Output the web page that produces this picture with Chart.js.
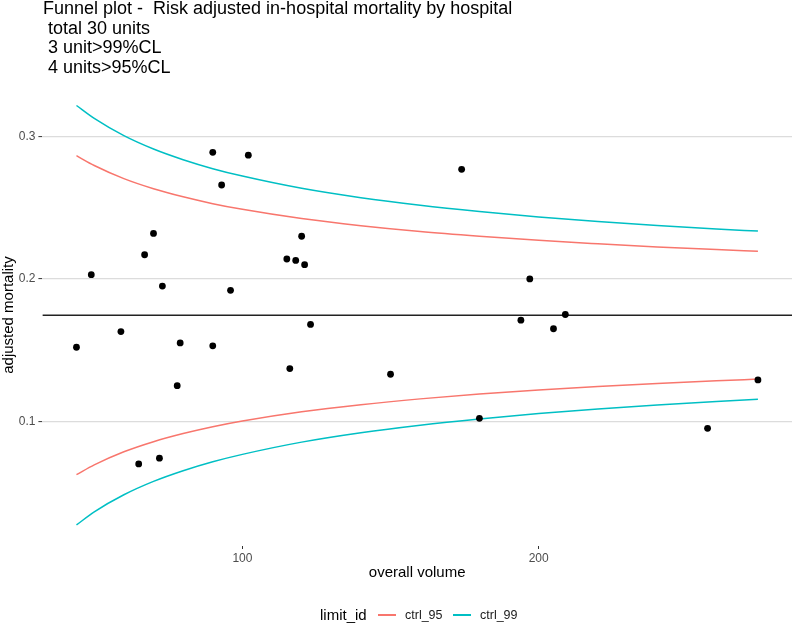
<!DOCTYPE html>
<html>
<head>
<meta charset="utf-8">
<script src="https://cdn.jsdelivr.net/npm/chart.js@4/dist/chart.umd.min.js"></script>
<style>
  html, body { margin: 0; padding: 0; background: #fff; }
  #wrap { position: relative; width: 796px; height: 623px; overflow: hidden; font-family: "Liberation Sans", Arial, sans-serif; }
  #title { position: absolute; left: 43px; top: -1px; font-size: 18px; line-height: 19.7px; white-space: pre; color: #000; }
  .lg { position: absolute; white-space: nowrap; }
  .lg-title { font-size: 15px; top: 606px; color: #000; }
  .lg-text { font-size: 12.5px; top: 608px; color: #1a1a1a; }
  .lg-key { height: 2px; width: 18px; top: 614px; }
</style>
</head>
<body>
<div id="wrap">
  <canvas id="funnel" width="796" height="623"></canvas>
  <div id="title"></div>
  <div class="lg lg-title" style="left:320px">limit_id</div>
  <div class="lg lg-key" style="left:378px;background:#F8766D"></div>
  <div class="lg lg-text" style="left:405px">ctrl_95</div>
  <div class="lg lg-key" style="left:453px;background:#00BFC4"></div>
  <div class="lg lg-text" style="left:480px">ctrl_99</div>
</div>
<script>
// Funnel plot: hospital volume vs risk adjusted mortality

const titleLines = [
    'Funnel plot -  Risk adjusted in-hospital mortality by hospital',
    ' total 30 units',
    ' 3 unit>99%CL',
    ' 4 units>95%CL'
];

// Hospitals
const hospitalVolume = [44, 49, 59, 67, 70, 73, 79, 78, 90, 90, 93, 96, 102, 115, 118, 121, 120, 123, 116, 150,
    65, 72, 174, 197, 194, 205, 209, 274, 180, 257];
const hospitalMortality = [0.152, 0.203, 0.163, 0.217, 0.232, 0.195, 0.155, 0.125, 0.289, 0.153, 0.266, 0.192, 0.287, 0.214, 0.213, 0.210, 0.230, 0.168, 0.137, 0.133,
    0.070, 0.074, 0.277, 0.200, 0.171, 0.165, 0.175, 0.129, 0.102, 0.095];

// Control limits
const limitVolume = [44, 50, 60, 70, 80, 90, 100, 120, 140, 160, 180, 200, 220, 240, 260, 274];
const upper95 = [0.2866, 0.2797, 0.2705, 0.2634, 0.2577, 0.2529, 0.2489, 0.2424, 0.2374, 0.2333, 0.2300, 0.2271, 0.2247, 0.2225, 0.2206, 0.2194];
const lower95 = [0.0624, 0.0693, 0.0785, 0.0856, 0.0913, 0.0961, 0.1001, 0.1066, 0.1116, 0.1157, 0.1191, 0.1219, 0.1244, 0.1265, 0.1284, 0.1296];
const upper99 = [0.3219, 0.3128, 0.3007, 0.2913, 0.2838, 0.2775, 0.2723, 0.2637, 0.2571, 0.2518, 0.2474, 0.2436, 0.2404, 0.2376, 0.2351, 0.2336];
const lower99 = [0.0271, 0.0363, 0.0483, 0.0577, 0.0652, 0.0715, 0.0767, 0.0853, 0.0919, 0.0972, 0.1016, 0.1054, 0.1086, 0.1114, 0.1139, 0.1154];
const meanMortality = 0.1745;

// Axes
const xMin = 32.5, xMax = 285.5;
const yMin = 0.0123, yMax = 0.337;
const xTicks = [100, 200];
const yTicks = [0.1, 0.2, 0.3];

const red = '#F8766D';
const cyan = '#00BFC4';

document.getElementById('title').textContent = titleLines.join('\n');

Chart.defaults.font.family = '"Liberation Sans", Arial, sans-serif';

function toPoints(xs, ys) {
    return xs.map((x, i) => ({ x: x, y: ys[i] }));
}

function limitLine(values, color) {
    return {
        data: toPoints(limitVolume, values),
        showLine: true,
        borderColor: color,
        borderWidth: 1.5,
        pointRadius: 0,
        cubicInterpolationMode: 'monotone'
    };
}

const ctx = document.getElementById('funnel').getContext('2d');
new Chart(ctx, {
    type: 'scatter',
    data: {
        datasets: [
            {
                data: toPoints(hospitalVolume, hospitalMortality),
                backgroundColor: '#000',
                borderWidth: 0,
                pointRadius: 3.4
            },
            limitLine(upper95, red),
            limitLine(lower95, red),
            limitLine(upper99, cyan),
            limitLine(lower99, cyan),
            {
                data: [{ x: xMin, y: meanMortality }, { x: xMax, y: meanMortality }],
                showLine: true,
                borderColor: '#222',
                borderWidth: 1.6,
                pointRadius: 0
            }
        ]
    },
    options: {
        responsive: false,
        animation: false,
        layout: { padding: { top: 84, right: 0.5, left: 0, bottom: 0 } },
        plugins: {
            legend: { display: false },
            tooltip: { enabled: false }
        },
        scales: {
            x: {
                type: 'linear',
                min: xMin,
                max: xMax,
                afterBuildTicks: s => { s.ticks = xTicks.map(v => ({ value: v })); },
                afterFit: s => { s.height = 77; },
                border: { display: false },
                grid: { drawOnChartArea: false, tickLength: 3, tickColor: '#333', tickWidth: 1 },
                ticks: { color: '#4d4d4d', font: { size: 12 }, padding: 2, maxRotation: 0 },
                title: { display: true, text: 'overall volume', color: '#000', font: { size: 15 }, padding: { top: 0, bottom: 41 } }
            },
            y: {
                type: 'linear',
                min: yMin,
                max: yMax,
                afterBuildTicks: s => { s.ticks = yTicks.map(v => ({ value: v })); },
                afterFit: s => { s.width = 42.4; },
                border: { display: false },
                grid: { color: '#dcdcdc', lineWidth: 1.2, tickLength: 4, tickColor: '#333', tickWidth: 1 },
                ticks: { color: '#4d4d4d', font: { size: 12 }, padding: 3, callback: v => v.toFixed(1) },
                title: { display: true, text: 'adjusted mortality', color: '#000', font: { size: 15 }, padding: 0 }
            }
        }
    }
});
</script>
</body>
</html>
